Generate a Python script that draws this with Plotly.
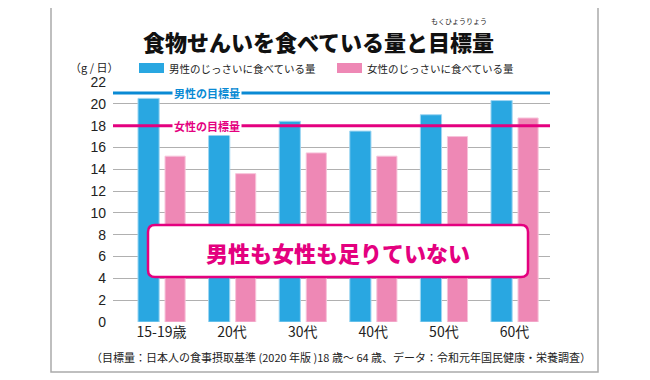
import plotly.graph_objects as go

categories = ["15-19歳", "20代", "30代", "40代", "50代", "60代"]
male_actual = [20.5, 17.3, 18.4, 17.5, 19.0, 20.3]
female_actual = [15.2, 13.6, 15.5, 15.2, 17.0, 18.7]
male_target = 21
female_target = 18
series_names = ["男性のじっさいに食べている量", "女性のじっさいに食べている量"]
target_labels = ["男性の目標量", "女性の目標量"]
y_ticks = list(range(0, 23, 2))

title_text = "食物せんいを食べている量と目標量"
ruby_text = "もくひょうりょう"
callout_text = "男性も女性も足りていない"
unit_text = "（g / 日）"
note_text = "（目標量：日本人の食事摂取基準 (2020 年版 )18 歳～ 64 歳、データ：令和元年国民健康・栄養調査）"

BLUE = "#29a7e1"
PINK = "#ee88b5"
LINE_BLUE = "#0a8ad4"
LINE_PINK = "#e4007f"
FONT = "Noto Sans CJK JP"

OFF = 8  # page body margin
W, H = 642, 372
L, R, T, B = 113 - OFF, 100, 82 - OFF, 58
PW, PH = W - L - R, H - T - B


def px(x):
    return (x - OFF - L) / PW


def py(y):
    return (H - B - (y - OFF)) / PH


fig = go.Figure()
xs = list(range(len(categories)))
fig.add_trace(go.Bar(x=xs, y=male_actual, name=series_names[0], width=0.3, offset=-0.333,
                     marker=dict(color=BLUE, line=dict(color="#9fd6f2", width=1)), showlegend=False))
fig.add_trace(go.Bar(x=xs, y=female_actual, name=series_names[1], width=0.285, offset=0.05,
                     marker=dict(color=PINK, line=dict(color="#f7c3da", width=1)), showlegend=False))

shapes = []
annotations = []

# outer frame
shapes.append(dict(type="rect", xref="paper", yref="paper", x0=px(51), x1=px(598), y0=py(372), y1=py(7),
                   line=dict(color="#aaaaaa", width=1.5), fillcolor="rgba(0,0,0,0)", layer="below"))

# target lines
for val, col, lab, lx in [(male_target, LINE_BLUE, target_labels[0], 207), (female_target, LINE_PINK, target_labels[1], 207)]:
    shapes.append(dict(type="line", xref="paper", yref="y", x0=0, x1=1, y0=val, y1=val,
                       line=dict(color=col, width=3)))
    annotations.append(dict(xref="paper", yref="y", x=px(lx), y=val, text="<b>%s</b>" % lab, showarrow=False,
                            font=dict(family=FONT, size=11, color=col), bgcolor="white", borderpad=1,
                            xanchor="center", yanchor="middle"))

# callout box (rounded rect)
x0, x1, y0, y1, r = 148, 528, 225, 277, 7
path = ("M {a},{b} L {c},{b} Q {d},{b} {d},{e} L {d},{f} Q {d},{g} {c},{g} L {a},{g} Q {h},{g} {h},{f} "
        "L {h},{e} Q {h},{b} {a},{b} Z").format(
    a=px(x0 + r), b=py(y0), c=px(x1 - r), d=px(x1), e=py(y0 + r), f=py(y1 - r), g=py(y1), h=px(x0))
shapes.append(dict(type="path", xref="paper", yref="paper", path=path, fillcolor="white",
                   line=dict(color=LINE_PINK, width=2.5), layer="above"))
annotations.append(dict(xref="paper", yref="paper", x=px((x0 + x1) / 2), y=py(252), text=callout_text,
                        showarrow=False, font=dict(family=FONT, size=22, color=LINE_PINK, weight=900),
                        xanchor="center", yanchor="middle"))

# legend swatches
for sx, col, name in [(139, BLUE, series_names[0]), (337, PINK, series_names[1])]:
    shapes.append(dict(type="rect", xref="paper", yref="paper", x0=px(sx), x1=px(sx + 25), y0=py(73), y1=py(63),
                       fillcolor=col, line=dict(width=0)))
    annotations.append(dict(xref="paper", yref="paper", x=px(sx + 28), y=py(68), text=name, showarrow=False,
                            font=dict(family=FONT, size=10.5, color="#222222"), xanchor="left", yanchor="middle"))

# title, ruby, unit, note
annotations.append(dict(xref="paper", yref="paper", x=px(318), y=py(41), text=title_text, showarrow=False,
                        font=dict(family=FONT, size=22, color="#111111", weight=900), xanchor="center", yanchor="middle"))
annotations.append(dict(xref="paper", yref="paper", x=px(459), y=py(21), text=ruby_text, showarrow=False,
                        font=dict(family=FONT, size=7, color="#222222"), xanchor="center", yanchor="middle"))
annotations.append(dict(xref="paper", yref="paper", x=px(94), y=py(67), text=unit_text, showarrow=False,
                        font=dict(family=FONT, size=11, color="#222222"), xanchor="center", yanchor="middle"))
annotations.append(dict(xref="paper", yref="paper", x=px(341), y=py(357), text=note_text, showarrow=False,
                        font=dict(family=FONT, size=11, color="#222222"), xanchor="center", yanchor="middle"))

fig.update_layout(
    width=W, height=H, margin=dict(l=L, r=R, t=T, b=B),
    paper_bgcolor="white", plot_bgcolor="white",
    barmode="overlay", shapes=shapes, annotations=annotations,
    font=dict(family=FONT, color="#222222"),
)
fig.update_xaxes(range=[-0.687, 5.503], tickvals=xs, ticktext=categories, showgrid=False, zeroline=False,
                 showline=False, ticks="", tickfont=dict(family=FONT, size=14, color="#222222"), fixedrange=True)
fig.update_yaxes(range=[0, 22], tickvals=y_ticks, showgrid=True, gridcolor="#b0b0b0", gridwidth=1,
                 zeroline=False, showline=False, ticks="", ticklabelstandoff=6,
                 tickfont=dict(family="Liberation Sans", size=14, color="#222222"), fixedrange=True)

fig.write_html("out.html")
